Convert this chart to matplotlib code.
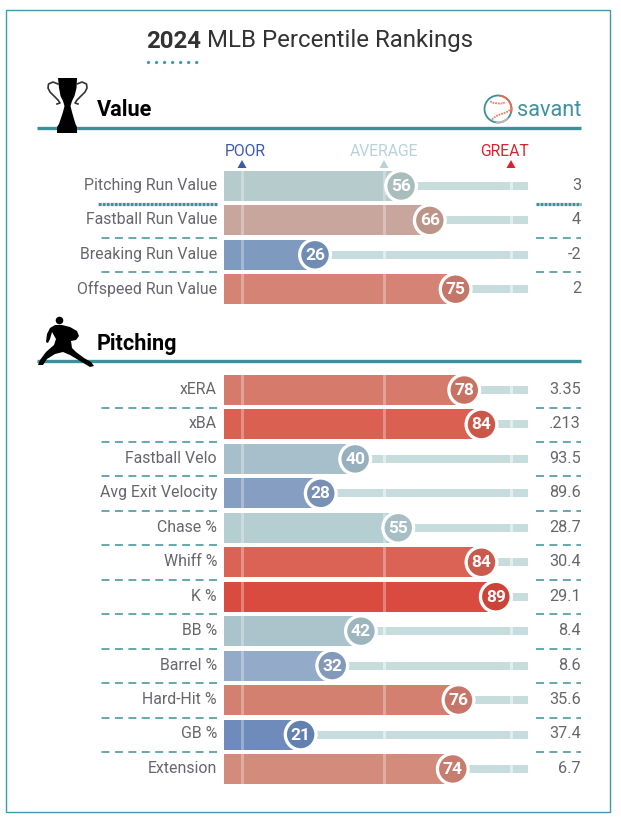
"""Savant percentile rankings card, laid out on a pixel-sized canvas."""
import matplotlib

matplotlib.use("Agg")
import matplotlib.pyplot as plt
from matplotlib.patches import Arc, Circle, Polygon, Rectangle

plt.rcParams["font.family"] = ["Roboto", "DejaVu Sans"]

value_labels = ["Pitching Run Value", "Fastball Run Value", "Breaking Run Value", "Offspeed Run Value"]
value_pct = [56, 66, 26, 75]
value_stats = ["3", "4", "-2", "2"]
value_bar_colors = ["#b5cbcc", "#c9a69d", "#7e9abf", "#d58374"]
value_dot_colors = ["#a9bdbc", "#bc9488", "#6f8cb4", "#c57668"]

pitch_labels = ["xERA", "xBA", "Fastball Velo", "Avg Exit Velocity", "Chase %", "Whiff %",
                "K %", "BB %", "Barrel %", "Hard-Hit %", "GB %", "Extension"]
pitch_pct = [78, 84, 40, 28, 55, 84, 89, 42, 32, 76, 21, 74]
pitch_stats = ["3.35", ".213", "93.5", "89.6", "28.7", "30.4", "29.1", "8.4", "8.6", "35.6", "37.4", "6.7"]
pitch_bar_colors = ["#d67a6b", "#da6152", "#a7bfcb", "#869ec1", "#b4ced1", "#db6355",
                    "#d94b3e", "#abc4cc", "#93abc8", "#d48070", "#6e8bbc", "#d38b7c"]
pitch_dot_colors = ["#c77263", "#cb5749", "#98b0bd", "#7890b4", "#a5bfc4", "#cb5a4e",
                    "#cc4338", "#9cb5be", "#8299ba", "#c77568", "#6280b0", "#c67c6e"]

TEAL = "#3a9199"
LABEL = "#66666e"
TRACK = "#c7dcdc"
BAR_LEFT = 224
TRACK_RIGHT = 528
TICKS = [242, 384, 511]
ROW_H = 30


def pct_x(p):
    return 240.4 + 2.87 * p


def draw_rows(ax, labels, pct, stats, bar_colors, dot_colors, top, step, dotted_first=False):
    for i, (lab, p, st, bc, dc) in enumerate(zip(labels, pct, stats, bar_colors, dot_colors)):
        y = top + i * step
        cx = pct_x(p)
        yc = y + ROW_H / 2
        # track first, then the bar and the tick marks over it
        ax.add_patch(Rectangle((cx, yc - 4), TRACK_RIGHT - cx, 8, fc=TRACK, ec="none", zorder=2))
        ax.add_patch(Rectangle((BAR_LEFT, y), cx - BAR_LEFT, ROW_H, fc=bc, ec="none", zorder=3))
        for t in TICKS:
            if t < cx:
                ax.add_patch(Rectangle((t - 1.5, y), 3, ROW_H, fc="white", alpha=0.3, ec="none", zorder=4))
            else:
                ax.add_patch(Rectangle((t - 1.5, yc - 4), 3, 8, fc="white", alpha=0.5, ec="none", zorder=4))
        ax.add_patch(Circle((cx, yc), 17, fc="white", ec="none", zorder=5))
        ax.add_patch(Circle((cx, yc), 13.7, fc=dc, ec="none", zorder=6))
        ax.text(cx, yc + 0.5, str(p), color="white", fontsize=12.5, fontweight="bold",
                ha="center", va="center", zorder=7)
        ax.text(217, yc - 0.5, lab, color=LABEL, fontsize=11.4, ha="right", va="center", zorder=7)
        ax.text(581, yc - 0.5, st, color=LABEL, fontsize=11.7, ha="right", va="center", zorder=7)
        if i < len(labels) - 1:
            sy = yc + 17.5
            if i == 0 and dotted_first:
                kw = dict(color=TEAL, lw=2.3, dashes=(0.95, 0.3))
            else:
                kw = dict(color=TEAL, lw=1.1, dashes=(5.2, 3.6))
            ax.plot([217, 98], [sy, sy], **kw)
            ax.plot([536, 581], [sy, sy], **kw)


def draw_trophy(ax):
    cup = [(58, 78), (77, 78), (76.5, 88), (74.5, 96), (72, 101), (70.5, 106), (72, 112), (74, 119),
           (75.5, 124), (77, 127), (77, 133), (57, 133), (57, 127), (59, 124), (61, 118), (63, 112),
           (64.5, 106), (63, 101), (60.5, 96), (59, 88)]
    ax.add_patch(Polygon(cup, closed=True, fc="black", ec="none", zorder=8))
    handle_x = [58, 53, 48.5, 48, 50, 54, 58, 60, 57]
    handle_y = [84, 82, 84, 88, 92, 96, 100, 103, 104]
    ax.plot(handle_x, handle_y, color="#333333", lw=1.2, zorder=8)
    ax.plot([135 - x for x in handle_x], handle_y, color="#333333", lw=1.2, zorder=8)


def draw_pitcher(ax):
    body = [(55, 325), (62, 325), (70, 327), (77, 331), (79, 336), (76, 340), (71, 341), (72, 348),
           (76, 352), (84, 358), (91, 362), (94, 366), (90, 367), (80, 361), (70, 355), (63, 352),
           (55, 354), (47, 359), (43, 365), (38, 365), (40, 360), (46, 352), (54, 345), (56, 339),
           (52, 332), (50, 339), (48, 343), (46, 342), (47, 334), (50, 328)]
    ax.add_patch(Polygon(body, closed=True, fc="black", ec="none", zorder=8))
    ax.add_patch(Circle((59.5, 320.5), 3.8, fc="black", ec="none", zorder=8))


def draw_ball(ax):
    ax.add_patch(Arc((498, 109), 27, 27, theta1=0, theta2=360, color=TEAL, lw=1.3, zorder=3))
    ax.add_patch(Arc((498, 109), 27, 27, theta1=-85, theta2=15, color="#e8694f", lw=1.3, zorder=4))
    ax.add_patch(Arc((498, 109), 27, 27, theta1=40, theta2=100, color="#b8b8b8", lw=1.3, zorder=4))
    seam = dict(color="#ee7f66", lw=1.3, ls=(0, (1, 0.5)), zorder=4)
    ax.plot([490, 494, 499, 503, 505], [101.5, 103, 103.5, 103.5, 102], **seam)
    ax.plot([492, 496, 501, 506, 510, 511.5], [119.5, 116, 114, 112.5, 110, 108], **seam)


fig = plt.figure(figsize=(6.21, 8.19), dpi=100)
ax = fig.add_axes([0, 0, 1, 1])
ax.set_xlim(0, 621)
ax.set_ylim(819, 0)
ax.axis("off")

ax.add_patch(Rectangle((6, 10), 604, 802, fc="none", ec="#3f9aab", lw=1))

ax.text(146, 41, "2024", fontsize=17.3, fontweight="bold", color="#333333", ha="left", va="center")
ax.text(207, 41, "MLB Percentile Rankings", fontsize=17.3, color="#333333", ha="left", va="center")
ax.plot([147.5, 200], [62, 62], color="#3f9aab", lw=2.4, dashes=(0.01, 2.4), dash_capstyle="round")

# section headers
for y_line, y_text, name in [(127.5, 110, "Value"), (361, 344, "Pitching")]:
    ax.plot([37, 581], [y_line, y_line], color=TEAL, lw=2.4, solid_capstyle="butt", zorder=2)
    ax.text(97, y_text, name, fontsize=15.6, fontweight="bold", color="black", ha="left", va="center")
draw_trophy(ax)
draw_pitcher(ax)
draw_ball(ax)
ax.text(581, 110, "savant", fontsize=15.7, color="#3f929e", ha="right", va="center")

# scale markers
for x_txt, x_tri, txt, col in [(245, 242, "POOR", "#3d5aae"), (384, 384, "AVERAGE", "#b7d3d8"),
                               (504.5, 511, "GREAT", "#d8242e")]:
    ax.text(x_txt, 151, txt, color=col, fontsize=11.3, ha="center", va="center")
    ax.add_patch(Polygon([(x_tri - 4.5, 168), (x_tri + 4.5, 168), (x_tri, 160)], closed=True, fc=col, ec="none"))

draw_rows(ax, value_labels, value_pct, value_stats, value_bar_colors, value_dot_colors, 171, 34.4, dotted_first=True)
draw_rows(ax, pitch_labels, pitch_pct, pitch_stats, pitch_bar_colors, pitch_dot_colors, 375, 34.45)

fig.savefig("out.png", dpi=100)
